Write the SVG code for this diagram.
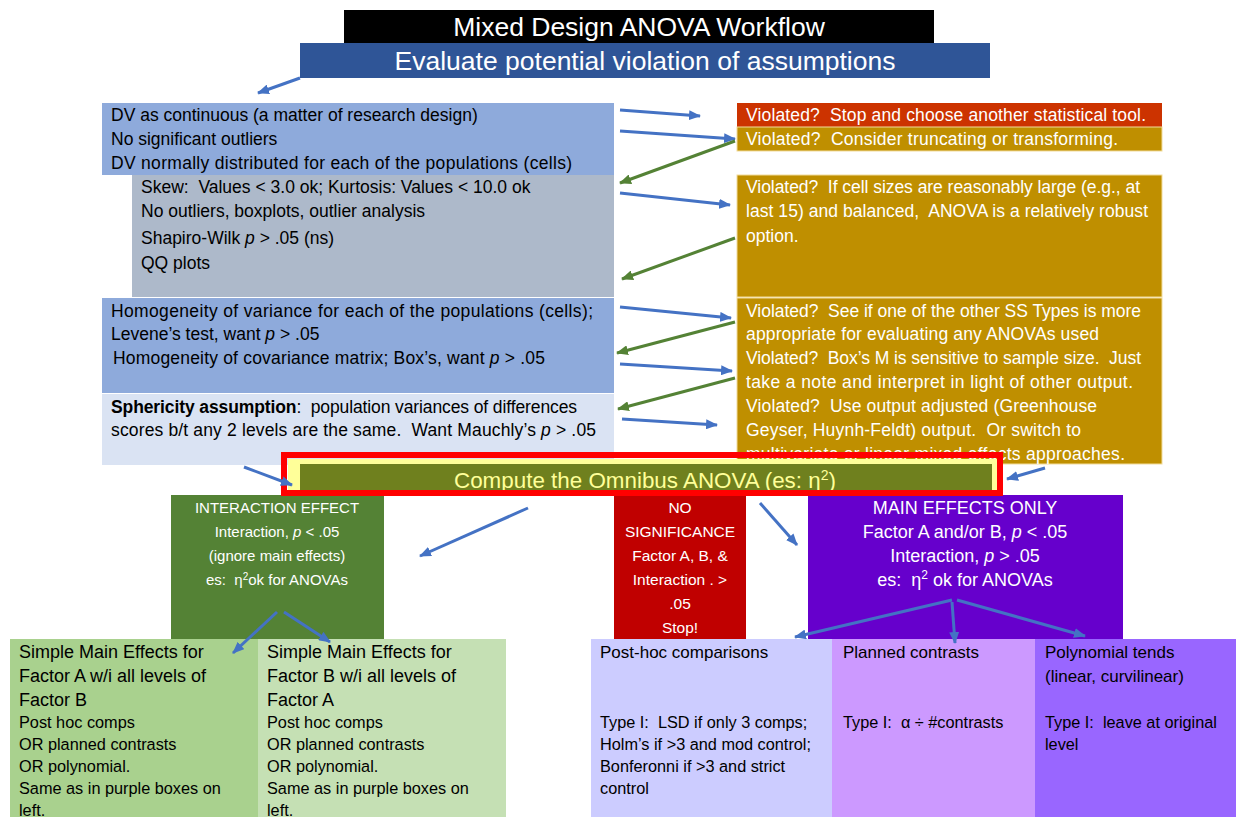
<svg xmlns="http://www.w3.org/2000/svg" width="1236" height="817" viewBox="0 0 1236 817" xml:space="preserve">
<defs>
<marker id="ab" markerWidth="12" markerHeight="10" refX="11" refY="5" orient="auto" markerUnits="userSpaceOnUse"><path d="M0,0 L12,5 L0,10 z" fill="#4472C4"/></marker>
<marker id="ag" markerWidth="12" markerHeight="10" refX="11" refY="5" orient="auto" markerUnits="userSpaceOnUse"><path d="M0,0 L12,5 L0,10 z" fill="#548235"/></marker>
<style>
text{font-family:"Liberation Sans",Arial,sans-serif;font-size:17.5px;white-space:pre}
.w{fill:#fff}
.k{fill:#000}
.c{text-anchor:middle}
.t{font-size:26.5px}
.cp{font-size:22.4px;fill:#FFFF99}
.s15{font-size:15px}
.s155{font-size:15.5px}
.s18{font-size:18px}
.s17{font-size:17px}
.s16{font-size:16.3px}
.b{stroke:#4472C4;stroke-width:3;fill:none;marker-end:url(#ab)}
.g{stroke:#548235;stroke-width:3;fill:none;marker-end:url(#ag)}
.gold{fill:#BF8F00;stroke:#F2DC9B;stroke-width:1}
</style>
</defs>
<rect width="1236" height="817" fill="#fff"/>

<g id="title">
<rect x="344" y="10" width="590" height="33" fill="#000"/>
<text x="639" y="36" class="w c t">Mixed Design ANOVA Workflow</text>
</g>
<g id="evaluate">
<rect x="300" y="43" width="690" height="35" fill="#2F5597"/>
<text x="645" y="70" class="w c t">Evaluate potential violation of assumptions</text>
</g>

<g id="assump1">
<rect x="102" y="103" width="512" height="72" fill="#8EAADB"/>
<text x="111" y="121" class="k">DV as continuous (a matter of research design)</text>
<text x="111" y="145" class="k">No significant outliers</text>
<text x="111" y="169" class="k" textLength="461">DV normally distributed for each of the populations (cells)</text>
</g>
<g id="assump2">
<rect x="132" y="175" width="482" height="122" fill="#ADB9CA"/>
<text x="141" y="193" class="k">Skew:  Values &lt; 3.0 ok; Kurtosis: Values &lt; 10.0 ok</text>
<text x="141" y="217" class="k">No outliers, boxplots, outlier analysis</text>
<text x="141" y="244" class="k">Shapiro-Wilk <tspan font-style="italic">p</tspan> &gt; .05 (ns)</text>
<text x="141" y="269" class="k">QQ plots</text>
</g>
<g id="assump3">
<rect x="102" y="298" width="512" height="95" fill="#8EAADB"/>
<text x="111" y="317" class="k" textLength="482">Homogeneity of variance for each of the populations (cells);</text>
<text x="111" y="340" class="k">Levene’s test, want <tspan font-style="italic">p</tspan> &gt; .05</text>
<text x="113" y="364" class="k" textLength="432">Homogeneity of covariance matrix; Box’s, want <tspan font-style="italic">p</tspan> &gt; .05</text>
</g>
<g id="assump4">
<rect x="102" y="394" width="512" height="71" fill="#DAE3F3"/>
<text x="111" y="413" class="k" textLength="466"><tspan font-weight="bold">Sphericity assumption</tspan>:  population variances of differences</text>
<text x="111" y="436" class="k" textLength="485">scores b/t any 2 levels are the same.  Want Mauchly’s <tspan font-style="italic">p</tspan> &gt; .05</text>
</g>

<g id="viol1">
<rect x="737" y="103" width="425" height="24" fill="#CC3300"/>
<text x="746" y="121" class="w" textLength="400">Violated?  Stop and choose another statistical tool.</text>
</g>
<g id="viol2">
<rect x="737" y="127" width="425" height="24" class="gold"/>
<text x="746" y="145" class="w" textLength="372">Violated?  Consider truncating or transforming.</text>
</g>
<g id="viol3">
<rect x="737" y="175" width="425" height="122" class="gold"/>
<text x="746" y="193" class="w" textLength="394">Violated?  If cell sizes are reasonably large (e.g., at</text>
<text x="746" y="217" class="w" textLength="402">last 15) and balanced,  ANOVA is a relatively robust</text>
<text x="746" y="242" class="w">option.</text>
</g>
<g id="viol4">
<rect x="737" y="298" width="425" height="166" class="gold"/>
<text x="746" y="317" class="w" textLength="395">Violated?  See if one of the other SS Types is more</text>
<text x="746" y="340" class="w" textLength="353">appropriate for evaluating any ANOVAs used</text>
<text x="746" y="364" class="w" textLength="395">Violated?  Box’s M is sensitive to sample size.  Just</text>
<text x="746" y="388" class="w" textLength="387">take a note and interpret in light of other output.</text>
<text x="746" y="412" class="w" textLength="351">Violated?  Use output adjusted (Greenhouse</text>
<text x="746" y="436" class="w" textLength="335">Geyser, Huynh-Feldt) output.  Or switch to</text>
<text x="746" y="460" class="w" textLength="379">multivariate or linear mixed effects approaches.</text>
</g>

<g id="interaction">
<rect x="171" y="495" width="213" height="144" fill="#548235"/>
<text x="277" y="513" class="w c s15">INTERACTION EFFECT</text>
<text x="277" y="537" class="w c s15">Interaction, <tspan font-style="italic">p</tspan> &lt; .05</text>
<text x="277" y="561" class="w c s15">(ignore main effects)</text>
<text x="277" y="585" class="w c s15">es:  η<tspan baseline-shift="super" style="font-size:10px">2</tspan>ok for ANOVAs</text>
</g>
<g id="nosig">
<rect x="614" y="495" width="132" height="145" fill="#C00000"/>
<text x="680" y="513" class="w c s155">NO</text>
<text x="680" y="537" class="w c s155">SIGNIFICANCE</text>
<text x="680" y="561" class="w c s155">Factor A, B, &amp;</text>
<text x="680" y="585" class="w c s155">Interaction . &gt;</text>
<text x="680" y="609" class="w c s155">.05</text>
<text x="680" y="633" class="w c s155">Stop!</text>
</g>
<g id="main">
<rect x="808" y="495" width="315" height="145" fill="#6600CC"/>
<text x="965" y="514" class="w c s18">MAIN EFFECTS ONLY</text>
<text x="965" y="538" class="w c s18">Factor A and/or B, <tspan font-style="italic">p</tspan> &lt; .05</text>
<text x="965" y="562" class="w c s18">Interaction, <tspan font-style="italic">p</tspan> &gt; .05</text>
<text x="965" y="586" class="w c s18">es:  η<tspan baseline-shift="super" style="font-size:12px">2</tspan> ok for ANOVAs</text>
</g>

<g id="compute">
<rect x="288" y="459" width="710" height="34" fill="#FFFF99"/>
<rect x="300" y="464" width="692" height="27" fill="#6F801E"/>
<text x="645" y="488" class="c cp">Compute the Omnibus ANOVA (es: η<tspan baseline-shift="super" style="font-size:14px">2</tspan>)</text>
<rect x="284" y="455" width="716" height="38" fill="none" stroke="#FF0000" stroke-width="6"/>
</g>

<g id="simpleA">
<rect x="10" y="639" width="248" height="178" fill="#A9D18E"/>
<text x="19" y="658" class="k s18">Simple Main Effects for</text>
<text x="19" y="682" class="k s18">Factor A w/i all levels of</text>
<text x="19" y="706" class="k s18">Factor B</text>
<text x="19" y="728" class="k s16">Post hoc comps</text>
<text x="19" y="750" class="k s16">OR planned contrasts</text>
<text x="19" y="772" class="k s16">OR polynomial.</text>
<text x="19" y="794" class="k s16">Same as in purple boxes on</text>
<text x="19" y="816" class="k s16">left.</text>
</g>
<g id="simpleB">
<rect x="258" y="639" width="248" height="178" fill="#C5E0B4"/>
<text x="267" y="658" class="k s18">Simple Main Effects for</text>
<text x="267" y="682" class="k s18">Factor B w/i all levels of</text>
<text x="267" y="706" class="k s18">Factor A</text>
<text x="267" y="728" class="k s16">Post hoc comps</text>
<text x="267" y="750" class="k s16">OR planned contrasts</text>
<text x="267" y="772" class="k s16">OR polynomial.</text>
<text x="267" y="794" class="k s16">Same as in purple boxes on</text>
<text x="267" y="816" class="k s16">left.</text>
</g>
<g id="posthoc">
<rect x="591" y="639" width="241" height="178" fill="#CCCCFF"/>
<text x="600" y="658" class="k s17">Post-hoc comparisons</text>
<text x="600" y="728" class="k s16">Type I:  LSD if only 3 comps;</text>
<text x="600" y="750" class="k s16">Holm’s if &gt;3 and mod control;</text>
<text x="600" y="772" class="k s16">Bonferonni if &gt;3 and strict</text>
<text x="600" y="794" class="k s16">control</text>
</g>
<g id="planned">
<rect x="832" y="639" width="203" height="178" fill="#CC99FF"/>
<text x="843" y="658" class="k s17">Planned contrasts</text>
<text x="843" y="728" class="k s16">Type I:  α ÷ #contrasts</text>
</g>
<g id="polynomial">
<rect x="1035" y="639" width="201" height="178" fill="#9966FF"/>
<text x="1045" y="658" class="k s17">Polynomial tends</text>
<text x="1045" y="682" class="k s17">(linear, curvilinear)</text>
<text x="1045" y="728" class="k s16">Type I:  leave at original</text>
<text x="1045" y="750" class="k s16">level</text>
</g>

<g id="connectors">
<line x1="300" y1="78" x2="258" y2="93" class="b"/>
<line x1="620" y1="110" x2="700" y2="116" class="b"/>
<line x1="620" y1="131" x2="735" y2="139" class="b"/>
<line x1="735" y1="141" x2="620" y2="183" class="g"/>
<line x1="620" y1="193" x2="730" y2="205" class="b"/>
<line x1="735" y1="238" x2="622" y2="279" class="g"/>
<line x1="620" y1="307" x2="731" y2="318" class="b"/>
<line x1="735" y1="322" x2="617" y2="353" class="g"/>
<line x1="620" y1="364" x2="732" y2="371" class="b"/>
<line x1="735" y1="378" x2="618" y2="409" class="g"/>
<line x1="622" y1="419" x2="717" y2="425" class="b"/>
<line x1="244" y1="467" x2="292" y2="485" class="b"/>
<line x1="1045" y1="468" x2="1007" y2="479" class="b"/>
<line x1="528" y1="508" x2="420" y2="556" class="b"/>
<line x1="760" y1="503" x2="797" y2="545" class="b"/>
<line x1="277" y1="612" x2="233" y2="653" class="b"/>
<line x1="284" y1="612" x2="330" y2="642" class="b"/>
<line x1="952" y1="600" x2="795" y2="637" class="b"/>
<line x1="952" y1="602" x2="955" y2="643" class="b"/>
<line x1="957" y1="600" x2="1085" y2="636" class="b"/>
</g>
</svg>
